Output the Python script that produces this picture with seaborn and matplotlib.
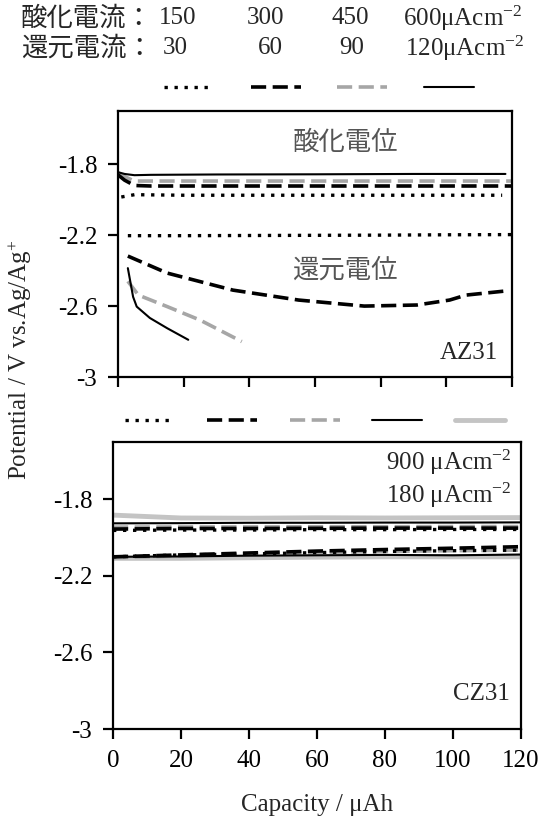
import matplotlib
matplotlib.use("Agg")
import matplotlib.pyplot as plt
import seaborn as sns
from matplotlib.lines import Line2D

# ---------------- data ----------------
ox_currents = ["150", "300", "450"]
ox_last = "600μAcm$^{-2}$"
red_currents = ["30", "60", "90"]
red_last = "120μAcm$^{-2}$"

xticks = [0, 20, 40, 60, 80, 100, 120]
yticks = [-1.8, -2.2, -2.6, -3.0]
ytick_labels = ["-1.8", "-2.2", "-2.6", "-3"]

# AZ31 oxidation potentials
az_ox150_x = [1, 5, 20, 40, 60, 80, 100, 117]
az_ox150_y = [-1.985, -1.972, -1.975, -1.975, -1.975, -1.975, -1.975, -1.975]
az_ox300_x = [0, 2, 5, 10, 30, 60, 90, 120]
az_ox300_y = [-1.86, -1.89, -1.92, -1.923, -1.923, -1.923, -1.923, -1.923]
az_ox450_x = [0, 2, 5, 10, 30, 60, 90, 120]
az_ox450_y = [-1.85, -1.87, -1.895, -1.895, -1.895, -1.895, -1.895, -1.895]
az_ox600_x = [0, 2, 5, 10, 30, 60, 90, 118]
az_ox600_y = [-1.845, -1.855, -1.862, -1.86, -1.858, -1.857, -1.855, -1.855]
# AZ31 reduction potentials
az_red30_x = [3, 20, 40, 60, 80, 100, 120]
az_red30_y = [-2.203, -2.203, -2.202, -2.201, -2.2, -2.198, -2.197]
az_red60_x = [3, 15, 35, 55, 75, 91, 101, 106, 119]
az_red60_y = [-2.318, -2.414, -2.51, -2.566, -2.60, -2.594, -2.566, -2.538, -2.513]
az_red90_x = [3, 6.2, 15, 25, 37.7]
az_red90_y = [-2.46, -2.538, -2.603, -2.679, -2.80]
az_red120_x = [3, 4.6, 5.7, 9.7, 15, 21.4]
az_red120_y = [-2.386, -2.548, -2.603, -2.667, -2.725, -2.79]

# CZ31
cz_x = [0, 20, 40, 60, 80, 100, 120]
cz_ox150 = [-1.962, -1.96, -1.96, -1.958, -1.958, -1.957, -1.957]
cz_ox300 = [-1.955, -1.952, -1.952, -1.951, -1.95, -1.95, -1.95]
cz_ox450 = [-1.945, -1.944, -1.944, -1.943, -1.943, -1.942, -1.942]
cz_ox600 = [-1.925, -1.924, -1.922, -1.922, -1.921, -1.921, -1.92]
cz_ox900 = [-1.882, -1.897, -1.898, -1.896, -1.897, -1.896, -1.895]
cz_red30 = [-2.10, -2.09, -2.085, -2.078, -2.072, -2.068, -2.065]
cz_red60 = [-2.10, -2.09, -2.08, -2.07, -2.062, -2.055, -2.047]
cz_red90 = [-2.105, -2.095, -2.085, -2.078, -2.072, -2.068, -2.065]
cz_red120 = [-2.10, -2.098, -2.094, -2.092, -2.09, -2.092, -2.088]
cz_red180 = [-2.108, -2.108, -2.105, -2.102, -2.10, -2.10, -2.10]

# ---------------- style ----------------
sns.set_theme(style="white")
plt.rcParams["font.family"] = ["Liberation Serif", "Noto Sans CJK JP"]
plt.rcParams["mathtext.fontset"] = "custom"
plt.rcParams["mathtext.rm"] = "Liberation Serif"
plt.rcParams["mathtext.it"] = "Liberation Serif:italic"
plt.rcParams["mathtext.bf"] = "Liberation Serif:bold"

STY = {
    "dot": dict(color="black", linewidth=2.4, linestyle=(0, (1, 2.0))),
    "dash": dict(color="black", linewidth=2.6, linestyle=(0, (4.2, 1.8))),
    "gdash": dict(color="#a6a6a6", linewidth=2.6, linestyle=(0, (4.2, 1.8))),
    "solid": dict(color="black", linewidth=1.5, linestyle="-"),
    "lgray": dict(color="#c4c4c4", linewidth=3.5, linestyle="-"),
}

def draw(ax, x, y, key):
    sns.lineplot(x=x, y=y, ax=ax, legend=False, sort=False, **STY[key])

fig = plt.figure(figsize=(5.44, 8.27), dpi=100)
ax1 = fig.add_axes([0.2169, 0.5441, 0.7243, 0.3217])
ax2 = fig.add_axes([0.2077, 0.1185, 0.75, 0.347])

# AZ31
draw(ax1, az_ox150_x, az_ox150_y, "dot")
draw(ax1, az_ox450_x, az_ox450_y, "gdash")
draw(ax1, az_ox300_x, az_ox300_y, "dash")
draw(ax1, az_ox600_x, az_ox600_y, "solid")
draw(ax1, az_red30_x, az_red30_y, "dot")
draw(ax1, az_red60_x, az_red60_y, "dash")
draw(ax1, az_red90_x, az_red90_y, "gdash")
draw(ax1, az_red120_x, az_red120_y, "solid")

# CZ31
draw(ax2, cz_x, cz_ox900, "lgray")
draw(ax2, cz_x, cz_red180, "lgray")
draw(ax2, cz_x, cz_ox450, "gdash")
draw(ax2, cz_x, cz_red90, "gdash")
draw(ax2, cz_x, cz_ox600, "solid")
draw(ax2, cz_x, cz_red120, "solid")
draw(ax2, cz_x, cz_ox300, "dash")
draw(ax2, cz_x, cz_red60, "dash")
draw(ax2, cz_x, cz_ox150, "dot")
draw(ax2, cz_x, cz_red30, "dot")

for ax in (ax1, ax2):
    ax.set_xlim(0, 120)
    ax.set_ylim(-3.0, -1.5)
    ax.set_xticks(xticks)
    ax.set_yticks(yticks)
    ax.set_yticklabels(ytick_labels)
    ax.set_xlabel("")
    ax.set_ylabel("")
    ax.tick_params(direction="out", length=7, width=1.6, labelsize=18,
                   bottom=True, left=True, colors="black", pad=8)
    for s in ax.spines.values():
        s.set_color("black")
        s.set_linewidth(1.6)
ax1.tick_params(labelbottom=False)
ax2.set_xticklabels([str(v) for v in xticks])
ax2.set_xlabel("Capacity / μAh", fontsize=18, labelpad=16)

ax1.text(0.576, 0.883, "酸化電位", transform=ax1.transAxes, ha="center", va="center",
         fontsize=19, color="#555555", family=["Noto Sans CJK JP", "DejaVu Sans"])
ax1.text(0.576, 0.402, "還元電位", transform=ax1.transAxes, ha="center", va="center",
         fontsize=19, color="#555555", family=["Noto Sans CJK JP", "DejaVu Sans"])
ax1.text(0.964, 0.09, "AZ31", transform=ax1.transAxes, ha="right", va="center", fontsize=18)
ax2.text(0.978, 0.93, "900 μAcm$^{-2}$", transform=ax2.transAxes, ha="right", va="center", fontsize=18)
ax2.text(0.978, 0.815, "180 μAcm$^{-2}$", transform=ax2.transAxes, ha="right", va="center", fontsize=18)
ax2.text(0.973, 0.122, "CZ31", transform=ax2.transAxes, ha="right", va="center", fontsize=18)

fig.text(20 / 544, 1 - 360 / 827, "Potential / V vs.Ag/Ag$^{+}$", rotation=90,
         ha="center", va="center", fontsize=18)

# header text
H = 827.0
W = 544.0
Y1, Y2 = 18, 48
jp = ["Noto Sans CJK JP", "DejaVu Sans"]
fig.text(21 / W, 1 - Y1 / H, "酸化電流：", ha="left", va="center", fontsize=19, family=jp)
fig.text(21 / W, 1 - Y2 / H, "還元電流：", ha="left", va="center", fontsize=19, family=jp)
for cx, t in zip([178, 266, 350], ox_currents):
    fig.text(cx / W, 1 - Y1 / H, t, ha="center", va="center", fontsize=18)
for cx, t in zip([175, 270, 352], red_currents):
    fig.text(cx / W, 1 - Y2 / H, t, ha="center", va="center", fontsize=18)
fig.text(403 / W, 1 - Y1 / H, ox_last, ha="left", va="center", fontsize=18)
fig.text(405 / W, 1 - Y2 / H, red_last, ha="left", va="center", fontsize=18)

# legends
h4 = [Line2D([], [], **STY[k]) for k in ["dot", "dash", "gdash", "solid"]]
fig.legend(h4, [""] * 4, ncol=4, frameon=False, loc="center",
           bbox_to_anchor=(319 / W, 1 - 88 / H), fontsize=10,
           handlelength=3.6, handletextpad=0.0, columnspacing=2.66,
           borderpad=0, borderaxespad=0)
h5 = [Line2D([], [], **STY[k]) for k in ["dot", "dash", "gdash", "solid", "lgray"]]
fig.legend(h5, [""] * 5, ncol=5, frameon=False, loc="center",
           bbox_to_anchor=(314.5 / W, 1 - 421 / H), fontsize=10,
           handlelength=3.6, handletextpad=0.0, columnspacing=2.34,
           borderpad=0, borderaxespad=0)

fig.savefig("out.png", dpi=100)
